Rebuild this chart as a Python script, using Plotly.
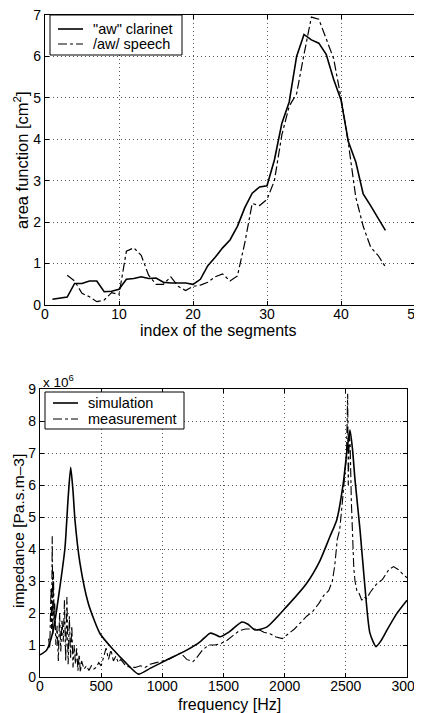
import plotly.graph_objects as go

# ---------------- top panel: area functions ----------------
seg_clarinet = list(range(1, 47))
area_clarinet = [0.14, 0.16, 0.19, 0.52, 0.52, 0.58, 0.58, 0.32, 0.33, 0.38,
                 0.62, 0.64, 0.68, 0.64, 0.65, 0.55, 0.53, 0.53, 0.53, 0.50,
                 0.62, 0.95, 1.15, 1.38, 1.57, 1.90, 2.35, 2.70, 2.85, 2.88,
                 3.50, 4.38, 4.90, 6.00, 6.53, 6.40, 6.32, 6.05, 5.45, 4.95,
                 3.94, 3.45, 2.68, 2.40, 2.10, 1.80]

seg_speech = list(range(3, 47))
area_speech = [0.72, 0.58, 0.28, 0.20, 0.08, 0.12, 0.30, 0.25,
               1.30, 1.38, 1.20, 0.72, 0.50, 0.50, 0.68, 0.45, 0.35, 0.45,
               0.48, 0.55, 0.68, 0.75, 0.58, 0.70, 1.50, 2.45, 2.40, 2.55,
               3.00, 4.10, 4.80, 5.10, 6.05, 6.95, 6.90, 6.40, 5.95, 5.00,
               3.90, 2.60, 1.90, 1.40, 1.20, 0.92]

# ---------------- bottom panel: impedance (x 10^6) ----------------
freq_sim = [0, 54, 109, 163, 204, 230, 251, 270, 286, 327, 395, 490, 600, 700,
            804, 900, 1035, 1199, 1308, 1390, 1430, 1471, 1550, 1650, 1700,
            1757, 1853, 2016, 2180, 2289, 2370, 2425, 2479, 2510, 2534, 2555,
            2575, 2616, 2656, 2697, 2747, 2790, 2834, 2916, 3000]
imp_sim = [0.69, 0.84, 1.47, 2.82, 4.03, 5.6, 6.55, 5.8, 4.9, 3.55, 2.3, 1.36,
           0.85, 0.45, 0.09, 0.27, 0.53, 0.84, 1.1, 1.37, 1.33, 1.26, 1.42,
           1.72, 1.65, 1.47, 1.56, 2.2, 2.93, 3.64, 4.39, 4.9, 6.05, 7.1,
           7.72, 7.1, 6.16, 4.6, 2.82, 1.37, 0.95, 1.15, 1.45, 1.98, 2.4]

freq_meas = [70, 80, 90, 95, 100, 105, 110, 115, 120, 130, 140, 150, 160, 170,
             180, 190, 200, 210, 220, 230, 240, 250, 260, 270, 280, 290, 300,
             310, 320, 330, 340, 360, 380, 400, 420, 440, 460, 480, 500, 520,
             540, 560, 580, 600, 620, 640, 660, 700, 740, 780, 820, 860, 900,
             950, 1000, 1050, 1100, 1150, 1200, 1250, 1280, 1330, 1380, 1430,
             1480, 1530, 1580, 1630, 1680, 1730, 1780, 1830, 1880, 1930, 1980,
             2030, 2080, 2130, 2180, 2230, 2280, 2320, 2360, 2390, 2410, 2430,
             2450, 2470, 2490, 2505, 2515, 2520, 2528, 2535, 2545, 2555, 2565,
             2575, 2590, 2610, 2630, 2650, 2670, 2700, 2750, 2800, 2850, 2890,
             2930, 2970, 3000]
imp_meas = [1.2, 0.9, 2.8, 1.5, 4.4, 1.3, 3.3, 1.8, 2.3, 1.0, 1.6, 0.5, 2.0, 0.8,
            1.8, 1.1, 2.4, 0.5, 2.5, 0.4, 1.9, 0.6, 1.6, 0.3, 1.0, 0.4, 0.9,
            0.2, 0.7, 0.15, 0.5, 0.25, 0.35, 0.2, 0.35, 0.25, 0.3, 0.45, 0.35, 0.6,
            0.9, 0.55, 0.85, 0.5, 0.65, 0.45, 0.55, 0.35, 0.3, 0.3, 0.35, 0.3, 0.4,
            0.45, 0.5, 0.55, 0.65, 0.75, 0.55, 0.48, 0.6, 0.85, 1.0, 1.0,
            1.05, 1.15, 1.3, 1.45, 1.5, 1.5, 1.5, 1.4, 1.35, 1.25, 1.2,
            1.35, 1.5, 1.7, 1.9, 2.05, 2.3, 2.55, 2.7, 3.0, 3.5, 4.3,
            4.6, 5.4, 6.2, 6.9, 8.85, 6.0, 7.6, 7.3, 5.5, 4.3, 3.4,
            3.0, 2.7, 2.6, 2.4, 2.5, 2.45, 2.65, 2.9, 3.05, 3.35, 3.45,
            3.35, 3.2, 3.1]

top_xticks = [0, 10, 20, 30, 40, 50]
top_yticks = [0, 1, 2, 3, 4, 5, 6, 7]
bot_xticks = [0, 500, 1000, 1500, 2000, 2500, 3000]
bot_yticks = [0, 1, 2, 3, 4, 5, 6, 7, 8, 9]

top_names = ['"aw" clarinet', "/aw/ speech"]
bot_names = ["simulation", "measurement"]

FONT = "Liberation Sans, Arial, Helvetica, sans-serif"
W, H = 422, 713
OFF = 8  # page body margin in the browser


def fx(px):
    return (px - OFF) / W


def fy(px):
    return (H - (px - OFF)) / H


fig = go.Figure()
fig.add_trace(go.Scatter(x=seg_clarinet, y=area_clarinet, mode="lines", name=top_names[0],
                         line=dict(color="black", width=1.6, dash="solid"),
                         xaxis="x", yaxis="y", showlegend=False))
fig.add_trace(go.Scatter(x=seg_speech, y=area_speech, mode="lines", name=top_names[1],
                         line=dict(color="black", width=1.2, dash="dashdot"),
                         xaxis="x", yaxis="y", showlegend=False))
fig.add_trace(go.Scatter(x=freq_sim, y=imp_sim, mode="lines", line_shape="spline", name=bot_names[0],
                         line=dict(color="black", width=1.6, dash="solid", smoothing=0.6),
                         xaxis="x2", yaxis="y2", showlegend=False))
fig.add_trace(go.Scatter(x=freq_meas, y=imp_meas, mode="lines", name=bot_names[1],
                         line=dict(color="black", width=1.1, dash="dashdot"),
                         xaxis="x2", yaxis="y2", showlegend=False))

axis_common = dict(showline=True, linecolor="black", linewidth=1.2, mirror="allticks",
                   ticks="inside", ticklen=4, tickcolor="black", showgrid=True,
                   gridcolor="#555", gridwidth=1, griddash="1px,3px", zeroline=False,
                   automargin=False, ticklabeloverflow="allow",
                   tickfont=dict(family=FONT, size=14, color="black"))
xextra = dict(ticklabelstandoff=-4)

fig.update_layout(
    template="none",
    width=W, height=H, margin=dict(l=0, r=0, t=0, b=0, autoexpand=False),
    paper_bgcolor="white", plot_bgcolor="white",
    font=dict(family=FONT, size=14, color="black"),
    showlegend=False,
    xaxis=dict(domain=[fx(45), fx(415)], range=[0, 50], tickvals=top_xticks, anchor="y", **axis_common, **xextra),
    yaxis=dict(domain=[fy(305), fy(15)], range=[0, 7], tickvals=top_yticks, anchor="x", **axis_common),
    xaxis2=dict(domain=[fx(40), fx(407)], range=[0, 3000], tickvals=bot_xticks, anchor="y2", **axis_common, **xextra),
    yaxis2=dict(domain=[fy(677), fy(389)], range=[0, 9], tickvals=bot_yticks, anchor="x2", **axis_common),
)

TITLE = dict(family=FONT, size=16, color="black")
LEG = dict(family=FONT, size=14.5, color="black")
ann = [
    dict(text="index of the segments", x=fx(218), y=fy(331), font=TITLE),
    dict(text="area function [cm<sup>2</sup>]", x=fx(21), y=fy(160), textangle=-90,
         font=dict(family=FONT, size=16.5, color="black")),
    dict(text="frequency [Hz]", x=fx(229), y=fy(704), font=TITLE),
    dict(text="impedance [Pa.s.m\u20133]", x=fx(18), y=fy(531), textangle=-90,
         font=dict(family=FONT, size=15.5, color="black")),
    dict(text="x 10<sup>6</sup>", x=fx(41), y=fy(381), xanchor="left", font=dict(family=FONT, size=13.5, color="black")),
    dict(text=top_names[0], x=fx(91), y=fy(29), xanchor="left", font=LEG),
    dict(text=top_names[1], x=fx(91), y=fy(44), xanchor="left", font=LEG),
    dict(text=bot_names[0], x=fx(86), y=fy(403), xanchor="left", font=LEG),
    dict(text=bot_names[1], x=fx(86), y=fy(419), xanchor="left", font=LEG),
]
for a in ann:
    a.setdefault("xanchor", "center")
    a.update(xref="paper", yref="paper", yanchor="middle", showarrow=False)
fig.update_layout(annotations=ann)

shapes = [
    # legend boxes
    dict(type="rect", x0=fx(50), x1=fx(182), y0=fy(55), y1=fy(15), fillcolor="white",
         line=dict(color="black", width=1)),
    dict(type="rect", x0=fx(45), x1=fx(184), y0=fy(429), y1=fy(392), fillcolor="white",
         line=dict(color="black", width=1)),
    # legend line samples
    dict(type="line", x0=fx(58), x1=fx(83), y0=fy(29), y1=fy(29), line=dict(color="black", width=1.6)),
    dict(type="line", x0=fx(58), x1=fx(83), y0=fy(44), y1=fy(44), line=dict(color="black", width=1.2, dash="dashdot")),
    dict(type="line", x0=fx(53), x1=fx(78), y0=fy(403), y1=fy(403), line=dict(color="black", width=1.6)),
    dict(type="line", x0=fx(53), x1=fx(78), y0=fy(419), y1=fy(419), line=dict(color="black", width=1.1, dash="dashdot")),
]
for s in shapes:
    s.update(xref="paper", yref="paper", layer="above")
fig.update_layout(shapes=shapes)

fig.write_html("out.html")
